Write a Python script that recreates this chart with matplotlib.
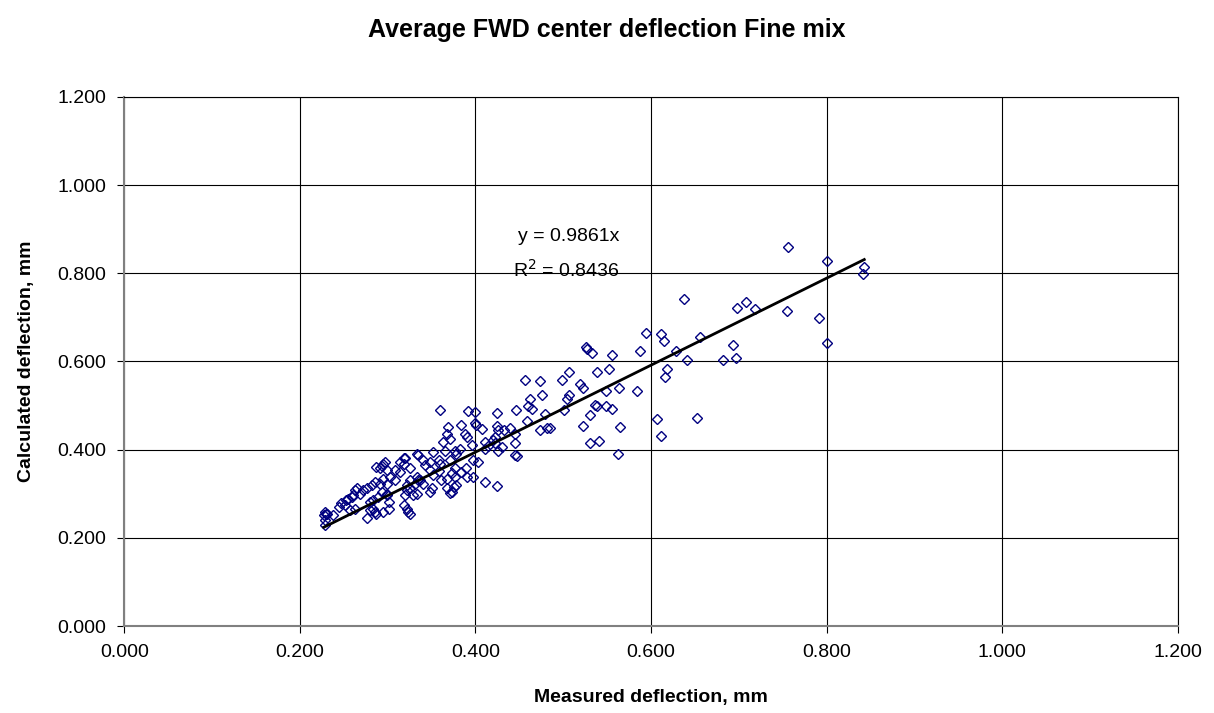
import matplotlib
matplotlib.use("Agg")
import matplotlib.pyplot as plt
from matplotlib.ticker import FormatStrFormatter

plt.rcParams['font.family'] = ['Liberation Sans', 'DejaVu Sans']

# Measured vs calculated deflection (mm)
measured = [
    0.756, 0.800, 0.843, 0.842, 0.698, 0.708, 0.719, 0.755, 0.791, 0.801,
    0.693, 0.682, 0.697, 0.656, 0.638, 0.594, 0.611, 0.615, 0.526, 0.527,
    0.533, 0.556, 0.588, 0.628, 0.641, 0.506, 0.499, 0.539, 0.552, 0.618,
    0.616, 0.519, 0.523, 0.506, 0.504, 0.549, 0.564, 0.584, 0.501, 0.536,
    0.538, 0.549, 0.556, 0.530, 0.523, 0.565, 0.607, 0.652, 0.611, 0.530,
    0.541, 0.562, 0.456, 0.473, 0.476, 0.462, 0.460, 0.464, 0.446, 0.425,
    0.392, 0.399, 0.359, 0.479, 0.459, 0.473, 0.481, 0.485, 0.439, 0.424,
    0.426, 0.432, 0.407, 0.401, 0.384, 0.369, 0.388, 0.390, 0.371, 0.363,
    0.422, 0.420, 0.422, 0.411, 0.445, 0.396, 0.430, 0.445, 0.447, 0.382,
    0.377, 0.365, 0.411, 0.426, 0.399, 0.367, 0.445, 0.414, 0.352, 0.335,
    0.318, 0.297, 0.291, 0.314, 0.318, 0.325, 0.340, 0.342, 0.348, 0.358,
    0.359, 0.378, 0.371, 0.377, 0.389, 0.397, 0.403, 0.397, 0.411, 0.424,
    0.384, 0.373, 0.377, 0.361, 0.367, 0.358, 0.348, 0.352, 0.333, 0.337,
    0.340, 0.322, 0.325, 0.308, 0.303, 0.299, 0.295, 0.314, 0.308, 0.299,
    0.295, 0.333, 0.329, 0.350, 0.348, 0.367, 0.371, 0.320, 0.299, 0.287,
    0.293, 0.276, 0.282, 0.285, 0.291, 0.263, 0.265, 0.272, 0.261, 0.268,
    0.247, 0.244, 0.251, 0.257, 0.263, 0.228, 0.238, 0.280, 0.283, 0.289,
    0.293, 0.280, 0.287, 0.299, 0.301, 0.320, 0.333, 0.253, 0.227, 0.230,
    0.228, 0.229, 0.255, 0.259, 0.276, 0.285, 0.283, 0.295, 0.318, 0.322,
    0.323, 0.325, 0.301, 0.322, 0.325, 0.331, 0.335, 0.375, 0.378, 0.373,
    0.390, 0.231,
]
calculated = [
    0.859, 0.829, 0.815, 0.799, 0.722, 0.734, 0.720, 0.715, 0.699, 0.642,
    0.638, 0.604, 0.608, 0.655, 0.742, 0.664, 0.663, 0.647, 0.632, 0.629,
    0.620, 0.614, 0.624, 0.624, 0.604, 0.577, 0.557, 0.577, 0.583, 0.582,
    0.564, 0.548, 0.540, 0.525, 0.516, 0.532, 0.539, 0.533, 0.489, 0.502,
    0.500, 0.498, 0.492, 0.478, 0.453, 0.452, 0.469, 0.471, 0.430, 0.414,
    0.420, 0.391, 0.557, 0.555, 0.524, 0.514, 0.500, 0.493, 0.491, 0.483,
    0.487, 0.485, 0.489, 0.480, 0.466, 0.445, 0.450, 0.450, 0.450, 0.453,
    0.444, 0.444, 0.448, 0.455, 0.455, 0.451, 0.436, 0.429, 0.425, 0.417,
    0.429, 0.421, 0.414, 0.417, 0.414, 0.410, 0.406, 0.389, 0.385, 0.402,
    0.397, 0.398, 0.402, 0.398, 0.461, 0.436, 0.436, 0.408, 0.395, 0.389,
    0.382, 0.372, 0.359, 0.372, 0.368, 0.359, 0.376, 0.365, 0.372, 0.376,
    0.368, 0.391, 0.376, 0.359, 0.359, 0.377, 0.372, 0.337, 0.327, 0.317,
    0.349, 0.346, 0.338, 0.331, 0.334, 0.352, 0.353, 0.342, 0.338, 0.331,
    0.323, 0.319, 0.331, 0.331, 0.338, 0.323, 0.334, 0.349, 0.353, 0.353,
    0.368, 0.300, 0.297, 0.312, 0.304, 0.314, 0.302, 0.297, 0.297, 0.361,
    0.364, 0.312, 0.319, 0.327, 0.323, 0.308, 0.312, 0.308, 0.297, 0.300,
    0.278, 0.270, 0.274, 0.263, 0.266, 0.259, 0.251, 0.281, 0.285, 0.293,
    0.304, 0.263, 0.255, 0.300, 0.266, 0.380, 0.391, 0.285, 0.251, 0.255,
    0.240, 0.229, 0.289, 0.293, 0.244, 0.259, 0.266, 0.259, 0.274, 0.266,
    0.259, 0.255, 0.281, 0.308, 0.312, 0.323, 0.331, 0.315, 0.319, 0.304,
    0.338, 0.253,
]

slope = 0.9861
r2 = 0.8436

ticks = [0.0, 0.2, 0.4, 0.6, 0.8, 1.0, 1.2]

fig = plt.figure(figsize=(12.14, 7.13), dpi=100)
ax = fig.add_axes([0.1025, 0.122, 0.8675, 0.742])

ax.plot(measured, calculated, linestyle="none", marker="D", markersize=5.2,
        markerfacecolor="none", markeredgecolor="#000080", markeredgewidth=1.0,
        zorder=3)

# linear trend through origin, drawn over the data range
x0, x1 = min(measured), max(measured)
ax.plot([x0, x1], [slope * x0, slope * x1], color="black", linewidth=2.0, zorder=4)

ax.text(0.448, 0.883, "y = %.4fx" % slope, fontsize=14, va="center", ha="left")
ax.text(0.443, 0.808, "R$^2$ = %.4f" % r2, fontsize=14, va="center", ha="left")

ax.set_xlim(0, 1.2)
ax.set_ylim(0, 1.2)
ax.set_xticks(ticks)
ax.set_yticks(ticks)
ax.xaxis.set_major_formatter(FormatStrFormatter('%.3f'))
ax.yaxis.set_major_formatter(FormatStrFormatter('%.3f'))
ax.grid(True, color="black", linewidth=0.8)
ax.set_axisbelow(True)
for s in ax.spines.values():
    s.set_color("black")
    s.set_linewidth(0.8)
ax.spines["left"].set_color("#808080")
ax.spines["bottom"].set_color("#808080")
ax.spines["left"].set_linewidth(1.5)
ax.spines["bottom"].set_linewidth(1.5)
ax.tick_params(direction="out", length=5, width=0.8, labelsize=14, pad=8)

ax.set_xlabel("Measured deflection, mm", fontsize=14, fontweight="bold", labelpad=20)
ax.set_ylabel("Calculated deflection, mm", fontsize=14, fontweight="bold", labelpad=16)
fig.suptitle("Average FWD center deflection Fine mix", fontsize=18, fontweight="bold",
             x=0.5, y=0.975)

plt.savefig("out.png", dpi=100)
